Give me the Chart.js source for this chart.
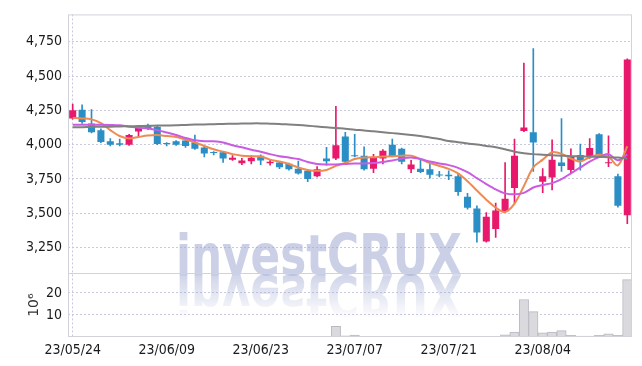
<!DOCTYPE html>
<html><head><meta charset="utf-8">
<script src="https://cdn.jsdelivr.net/npm/chart.js@4.4.1/dist/chart.umd.min.js"></script>
<style>html,body{margin:0;padding:0;background:#fff;}#wrap{width:642px;height:366px;}</style>
</head><body><div id="wrap"><canvas id="c" width="642" height="366"></canvas></div>
<script>
const dates = ['23/05/24','23/05/25','23/05/26','23/05/30','23/05/31','23/06/01','23/06/02','23/06/05','23/06/07','23/06/08',
'23/06/09','23/06/12','23/06/13','23/06/14','23/06/15','23/06/16','23/06/19','23/06/20','23/06/21','23/06/22',
'23/06/23','23/06/26','23/06/27','23/06/28','23/06/29','23/06/30','23/07/03','23/07/04','23/07/05','23/07/06',
'23/07/07','23/07/10','23/07/11','23/07/12','23/07/13','23/07/14','23/07/17','23/07/18','23/07/19','23/07/20',
'23/07/21','23/07/24','23/07/25','23/07/26','23/07/27','23/07/28','23/07/31','23/08/01','23/08/02','23/08/03',
'23/08/04','23/08/07','23/08/08','23/08/09','23/08/10','23/08/11','23/08/14','23/08/16','23/08/17','23/08/18'];

const open = [4190,4255,4155,4105,4025,4010,4000,4095,4140,4130, 4010,4025,4030,4015,3980,3945,3945,3890,3865,3880,
3920,3865,3870,3860,3825,3810,3770,3900,3900,4060, 3920,3920,3825,3900,4000,3970,3820,3825,3820,3780,
3780,3770,3620,3535,3295,3385,3515,3685,4100,4090, 3730,3760,3870,3815,3925,3910,4075,3865,3770,3485];
const high = [4295,4290,4255,4115,4045,4040,4075,4140,4150,4135, 4015,4030,4045,4070,3990,3950,3950,3920,3900,3920,
3925,3890,3875,3865,3880,3815,3840,3980,4280,4090, 4075,3985,3930,3965,4040,3975,3885,3885,3860,3805,
3810,3790,3645,3555,3505,3575,3870,4040,4595,4700, 3825,4035,4190,3970,4005,4045,4080,4065,3785,4625];
const low = [4185,4155,4085,4015,3990,3990,3995,4055,4110,4000, 3990,3995,3980,3965,3910,3925,3870,3885,3855,3860,
3855,3850,3825,3815,3785,3730,3765,3850,3890,3870, 3910,3815,3795,3860,3910,3860,3795,3795,3755,3765,
3745,3630,3530,3290,3290,3325,3505,3575,4095,3805, 3650,3670,3805,3790,3815,3900,3915,3840,3545,3425];
const close = [4250,4165,4090,4020,4000,4000,4070,4125,4115,4005, 4005,4000,3990,3970,3935,3940,3900,3905,3885,3905,
3885,3875,3835,3820,3790,3750,3820,3880,3995,3875, 3915,3820,3910,3955,3915,3875,3855,3800,3780,3775,
3770,3655,3540,3360,3475,3520,3605,3920,4125,4015, 3770,3890,3845,3915,3885,3975,3920,3870,3555,4620];

// volume in millions of shares
const volume = [0.35,0.3,0.3,0.05,0.05,0.05,0.05,0.05,0.05,0.35, 0.05,0.05,0.05,0.35,0.05,0.05,0.05,0.05,0.05,0.05,
0.05,0.05,0.05,0.05,0.05,0.05,0.05,0.3,4.8,0.5, 0.9,0.1,0.05,0.05,0.05,0.05,0.05,0.05,0.05,0.05,
0.05,0.3,0.05,0.3,0.1,0.1,1.0,2.2,17,11.5, 1.9,2.2,2.9,0.8,0.4,0.4,0.8,1.4,0.8,26];

const ma5 = [4195,4191,4184,4156,4106,4063,4045,4056,4066,4070, 4063,4056,4038,4016,3991,3966,3949,3931,3920,3915,
3913,3891,3877,3859,3834,3816,3809,3816,3845,3866, 3895,3906,3909,3913,3915,3920,3920,3895,3866,3845,
3824,3791,3734,3666,3599,3541,3509,3570,3699,3834, 3891,3945,3934,3899,3877,3909,3927,3913,3849,3988];
const ma20 = [4145,4145,4145,4145,4144,4141,4131,4124,4118,4106, 4088,4070,4049,4032,4025,4024,4016,3995,3981,3963,
3949,3931,3916,3906,3895,3874,3859,3856,3856,3859, 3863,3863,3866,3874,3884,3899,3906,3895,3877,3863,
3851,3831,3799,3756,3713,3674,3645,3638,3649,3688, 3706,3720,3749,3791,3834,3877,3909,3931,3886,3929];
const ma60 = [4127,4127,4129,4130,4131,4133,4134,4136,4137,4139, 4140,4141,4144,4146,4147,4149,4151,4152,4154,4155,
4155,4153,4151,4147,4143,4138,4132,4127,4121,4116, 4109,4104,4097,4091,4084,4077,4070,4063,4052,4041,
4027,4018,4009,4001,3991,3981,3966,3949,3938,3931, 3927,3923,3920,3916,3915,3913,3910,3909,3906,3899];

const priceTicks = [3250,3500,3750,4000,4250,4500,4750];
const volumeTicks = [10,20];
const labelEvery = 10;

const UP = '#e8196c', DOWN = '#2b8fc6';
const candleColors = close.map((c,i) => c >= open[i] ? UP : DOWN);
const FONT = "'Liberation Sans Narrow','DejaVu Sans Condensed',sans-serif";
const GRID = '#c9c9de';

const framePlugin = {
  id: 'frame',
  beforeDatasetsDraw(chart) {
    const c = chart.ctx;
    c.save();
    c.font = "bold 57px 'DejaVu Sans Condensed','Liberation Sans Narrow',sans-serif";
    const txt = 'investCRUX';
    const w = c.measureText(txt).width;
    const base = 275;
    c.translate(176, base);
    c.scale(286 / w, 1);
    c.textBaseline = 'alphabetic';
    c.fillStyle = 'rgba(160,170,210,0.55)';
    c.fillText(txt, 0, 0);
    c.scale(1, -1);
    const g = c.createLinearGradient(0, 0, 0, -44);
    g.addColorStop(0, 'rgba(160,170,210,0.50)');
    g.addColorStop(1, 'rgba(160,170,210,0.0)');
    c.fillStyle = g;
    c.fillText(txt, 0, 0);
    c.restore();
  },
  afterDraw(chart) {
    const c = chart.ctx, a = chart.chartArea;
    const ys = chart.scales.y;
    c.save();
    c.strokeStyle = '#d2d2da';
    c.lineWidth = 1;
    c.strokeRect(a.left + 0.5, a.top + 0.5, a.width - 1, a.height - 1);
    c.beginPath();
    c.moveTo(a.left, Math.round(ys.bottom) + 0.5);
    c.lineTo(a.right, Math.round(ys.bottom) + 0.5);
    c.stroke();
    c.restore();
  }
};

const tickFont = {family: FONT, size: 14, weight: 'normal'};

new Chart(document.getElementById('c'), {
  data: {
    labels: dates,
    datasets: [
      {type:'line', label:'MA60', data: ma60, yAxisID:'y', borderColor:'#808080', borderWidth:2, pointRadius:0, tension:0.3, order:1},
      {type:'line', label:'MA20', data: ma20, yAxisID:'y', borderColor:'#c95ce2', borderWidth:2, pointRadius:0, tension:0.3, order:1},
      {type:'line', label:'MA5', data: ma5, yAxisID:'y', borderColor:'#ee8a52', borderWidth:2, pointRadius:0, tension:0.3, order:1},
      {type:'bar', label:'wick', data: low.map((l,i)=>[l, high[i]]), yAxisID:'y', backgroundColor: candleColors, barThickness:1, grouped:false, order:2},
      {type:'bar', label:'body', data: open.map((o,i)=>[o, close[i]]), yAxisID:'y', backgroundColor: candleColors, barPercentage:0.75, categoryPercentage:1, grouped:false, minBarLength:1, order:2},
      {type:'bar', label:'volume', data: volume, yAxisID:'yv', backgroundColor:'#d9d9de', borderColor:'#b9b9c2', borderWidth:1, barPercentage:1, categoryPercentage:1, grouped:false, order:3}
    ]
  },
  options: {
    responsive:false, animation:false, devicePixelRatio:1,
    layout: {padding: {left:0, right:10, top:8, bottom:0}},
    plugins: {legend:{display:false}, tooltip:{enabled:false}},
    scales: {
      x: {
        type:'category', offset:true,
        grid: {offset:false, drawTicks:false, color: ctx => (ctx.index % labelEvery === 0 ? GRID : 'rgba(0,0,0,0)')},
        border: {display:false, dash:[2,2]},
        ticks: {autoSkip:false, maxRotation:0, minRotation:0, padding:5, color:'#1a1a1a', font: tickFont,
          callback: (v,i) => (i % labelEvery === 0 ? dates[i] : null)},
        afterFit: s => { s.height = 29; }
      },
      yv: {
        type:'linear', position:'left', stack:'main', stackWeight:65, min:0, max:28.9,
        afterBuildTicks: s => { s.ticks = volumeTicks.map(v => ({value:v})); },
        grid: {drawTicks:false, color: GRID},
        border: {display:false, dash:[2,2]},
        ticks: {padding:6, color:'#1a1a1a', font: tickFont},
        title: {display:true, text:'10⁶', color:'#333', font:{family:"'DejaVu Sans',sans-serif", size:14}, padding:{top:26, bottom:0}},
        afterFit: s => { s.width = 68; }
      },
      y: {
        type:'linear', position:'left', stack:'main', stackWeight:264, min:3063, max:4949,
        afterBuildTicks: s => { s.ticks = priceTicks.map(v => ({value:v})); },
        grid: {drawTicks:false, color: GRID},
        border: {display:false, dash:[2,2]},
        ticks: {padding:6, color:'#1a1a1a', font: tickFont, callback: v => v.toLocaleString('en-US')},
        afterFit: s => { s.width = 68; }
      }
    }
  },
  plugins: [framePlugin]
});
</script>
</body></html>
